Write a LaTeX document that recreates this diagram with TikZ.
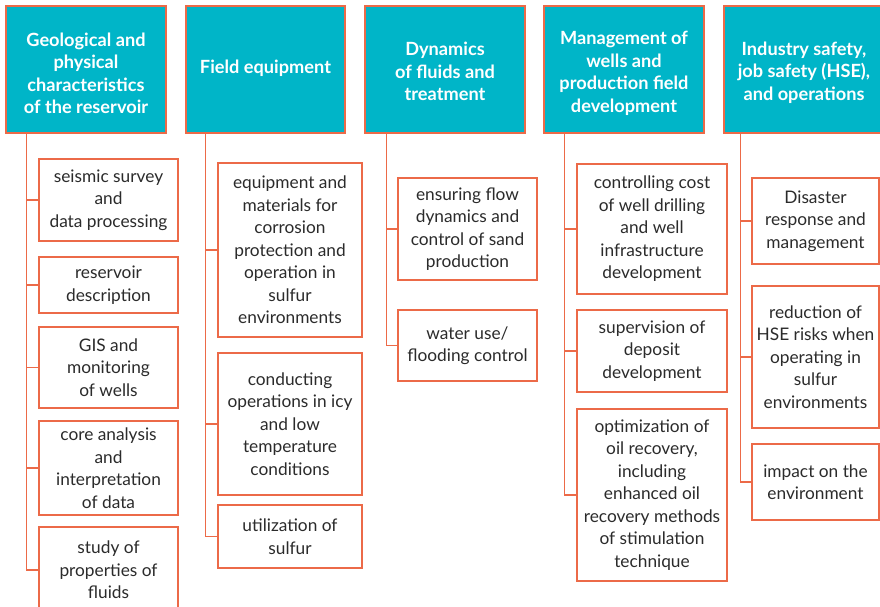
\documentclass[tikz,border=0pt]{standalone}
\usepackage{fontspec}
\setmainfont{Lato}
\definecolor{hdrfill}{HTML}{00B5C8}
\definecolor{edge}{HTML}{EC6A48}
\definecolor{txt}{HTML}{2B2B2B}
\tikzset{
  hdr/.style={draw=edge, line width=1.5pt, fill=hdrfill, inner sep=0pt},
  hdrtext/.style={text=white, font=\fontsize{18.2}{22.5}\selectfont\bfseries, align=center, inner sep=0pt},
  item/.style={draw=edge, line width=1.3pt, fill=white, text=txt,
    font=\fontsize{17.3}{22.5}\selectfont, align=center, inner sep=0pt},
  conn/.style={draw=edge, line width=1.3pt}
}
\begin{document}
\begin{tikzpicture}[x=1pt,y=-1pt]
\useasboundingbox (0,0) rectangle (880,607);
\clip (0,0) rectangle (880,607);
% headers
\node[hdr, minimum width=160pt, minimum height=127pt] (h1) at (86,69.5) {};
\node[hdr, minimum width=159pt, minimum height=127pt] (h2) at (265.5,69.5) {};
\node[hdr, minimum width=160pt, minimum height=127pt] (h3) at (445,69.5) {};
\node[hdr, minimum width=160pt, minimum height=127pt] (h4) at (624,69.5) {};
\node[hdr, minimum width=160pt, minimum height=127pt] (h5) at (804,69.5) {};
\node[hdrtext] (h1t) at ([yshift=-4pt]h1.center) {Geological and\\physical\\characteristics\\of the reservoir};
\node[hdrtext] (h2t) at ([yshift=1pt]h2.center) {Field equipment};
\node[hdrtext] (h3t) at ([yshift=-2pt]h3.center) {Dynamics\\of fluids and\\treatment};
\node[hdrtext] (h4t) at ([yshift=-4pt]h4.center) {Management of\\wells and\\production field\\development};
\node[hdrtext] (h5t) at ([yshift=-3pt]h5.center) {Industry safety,\\job safety (HSE),\\and operations};
% column 1
\node[item, minimum width=139pt, minimum height=82pt] (a1) at (108.5,200) {seismic survey\\and\\data processing};
\node[item, minimum width=139pt, minimum height=56pt] (a2) at (108.5,285) {reservoir\\description};
\node[item, minimum width=139pt, minimum height=81pt] (a3) at (108.5,367.5) {GIS and\\monitoring\\of wells};
\node[item, minimum width=139pt, minimum height=94pt] (a4) at (108.5,468) {core analysis\\and\\interpretation\\of data};
\node[item, minimum width=139pt, minimum height=86pt] (a5) at (108.5,570) {study of\\properties of\\fluids};
% column 2
\node[item, minimum width=144pt, minimum height=174pt] (b1) at (290,250) {equipment and\\materials for\\corrosion\\protection and\\operation in\\sulfur\\environments};
\node[item, minimum width=144pt, minimum height=142pt] (b2) at (290,424) {conducting\\operations in icy\\and low\\temperature\\conditions};
\node[item, minimum width=144pt, minimum height=63pt] (b3) at (290,536.5) {utilization of\\sulfur};
% column 3
\node[item, minimum width=139pt, minimum height=102pt] (c1) at (467.5,229) {ensuring flow\\dynamics and\\control of sand\\production};
\node[item, minimum width=139pt, minimum height=71pt] (c2) at (467.5,345.5) {water use/\\flooding control};
% column 4
\node[item, minimum width=150pt, minimum height=130pt] (d1) at (652,229) {controlling cost\\of well drilling\\and well\\infrastructure\\development};
\node[item, minimum width=150pt, minimum height=82pt] (d2) at (652,351) {supervision of\\deposit\\development};
\node[item, minimum width=150pt, minimum height=172pt] (d3) at (652,495) {optimization of\\oil recovery,\\including\\enhanced oil\\recovery methods\\of stimulation\\technique};
% column 5
\node[item, minimum width=127pt, minimum height=86pt] (e1) at (815.5,221) {Disaster\\response and\\management};
\node[item, minimum width=127pt, minimum height=142pt] (e2) at (815.5,357) {reduction of\\HSE risks when\\operating in\\sulfur\\environments};
\node[item, minimum width=127pt, minimum height=76pt] (e3) at (815.5,482) {impact on the\\environment};
% connectors
\foreach \b in {a1,a2,a3,a4,a5}{\draw[conn] ([xshift=21pt]h1.south west) |- (\b.west);}
\foreach \b in {b1,b2,b3}{\draw[conn] ([xshift=20pt]h2.south west) |- (\b.west);}
\foreach \b in {c1,c2}{\draw[conn] ([xshift=22pt]h3.south west) |- (\b.west);}
\foreach \b in {d1,d2,d3}{\draw[conn] ([xshift=21pt]h4.south west) |- (\b.west);}
\foreach \b in {e1,e2,e3}{\draw[conn] ([xshift=17pt]h5.south west) |- (\b.west);}
\end{tikzpicture}
\end{document}
